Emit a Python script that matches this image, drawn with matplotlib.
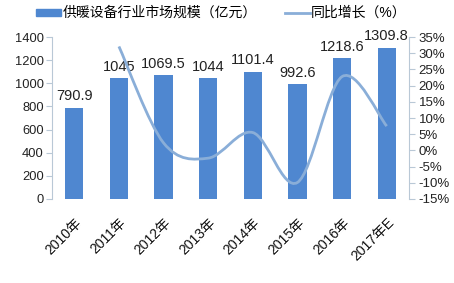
import matplotlib
matplotlib.use("Agg")
import matplotlib.pyplot as plt
from matplotlib.path import Path
from matplotlib.patches import PathPatch, Patch
from matplotlib.lines import Line2D

plt.rcParams['font.family'] = ['Liberation Sans', 'Noto Sans CJK SC', 'DejaVu Sans']

years = ['2010年', '2011年', '2012年', '2013年', '2014年', '2015年', '2016年', '2017年E']
scale = [790.9, 1045, 1069.5, 1044, 1101.4, 992.6, 1218.6, 1309.8]
scale_labels = ['790.9', '1045', '1069.5', '1044', '1101.4', '992.6', '1218.6', '1309.8']
growth_x = [1, 2, 3, 4, 5, 6, 7]
growth = [32.1, 2.3, -2.4, 5.5, -9.9, 22.8, 7.5]

bar_color = '#4f87d0'
line_color = '#8aaed8'
axis_color = '#b9c8d6'

fig = plt.figure(figsize=(4.54, 2.83), dpi=100)
ax = fig.add_axes([0.1145, 0.297, 0.7865, 0.572])
ax2 = ax.twinx()

x = list(range(len(years)))
ax.bar(x, scale, width=0.41, color=bar_color, zorder=2)
for xi, v, s in zip(x, scale, scale_labels):
    ax.annotate(s, (xi, v), xytext=(0, 3), textcoords='offset points',
                ha='center', va='bottom', fontsize=10.5, color='#222222',
                annotation_clip=False)

ax.set_xlim(-0.5, 7.5)
ax.set_ylim(0, 1400)
ax.set_yticks(range(0, 1401, 200))
ax.set_xticks(x)
ax.set_xticklabels(years, rotation=45, ha='right', rotation_mode='anchor',
                   fontsize=10, color='#111111')
ax.tick_params(axis='x', length=0, pad=12)
ax.tick_params(axis='y', length=4, color=axis_color, labelsize=9.3,
               labelcolor='#222222', pad=2)

# smoothed growth line (Catmull-Rom as cubic bezier)
pts = list(zip(growth_x, growth))
verts = [pts[0]]
codes = [Path.MOVETO]
n = len(pts)
for i in range(n - 1):
    p0 = pts[i - 1] if i > 0 else pts[i]
    p1 = pts[i]
    p2 = pts[i + 1]
    p3 = pts[i + 2] if i + 2 < n else pts[i + 1]
    c1 = (p1[0] + (p2[0] - p0[0]) / 6, p1[1] + (p2[1] - p0[1]) / 6)
    c2 = (p2[0] - (p3[0] - p1[0]) / 6, p2[1] - (p3[1] - p1[1]) / 6)
    verts += [c1, c2, p2]
    codes += [Path.CURVE4] * 3
ax2.add_patch(PathPatch(Path(verts, codes), facecolor='none',
                        edgecolor=line_color, lw=2, zorder=3))
ax2.set_ylim(-15, 35)
ax2.set_yticks(range(-15, 36, 5))
ax2.set_yticklabels([f'{t}%' for t in range(-15, 36, 5)])
ax2.tick_params(axis='y', length=4, color=axis_color, labelsize=9.5,
                labelcolor='#222222', pad=3)

for a in (ax, ax2):
    a.spines['top'].set_visible(False)
    a.spines['bottom'].set_visible(False)
    a.spines['left'].set_color(axis_color)
    a.spines['right'].set_color(axis_color)
ax.spines['right'].set_visible(False)
ax2.spines['left'].set_visible(False)

handles = [Patch(color=bar_color), Line2D([], [], color=line_color, lw=2)]
fig.legend(handles, ['供暖设备行业市场规模（亿元）', '同比增长（%）'],
           loc='center', bbox_to_anchor=(0.488, 0.954), ncol=2, frameon=False,
           fontsize=10, handlelength=1.8, handleheight=0.4, handletextpad=0.1,
           columnspacing=2.0, borderaxespad=0)

fig.savefig('out.png', dpi=100)
